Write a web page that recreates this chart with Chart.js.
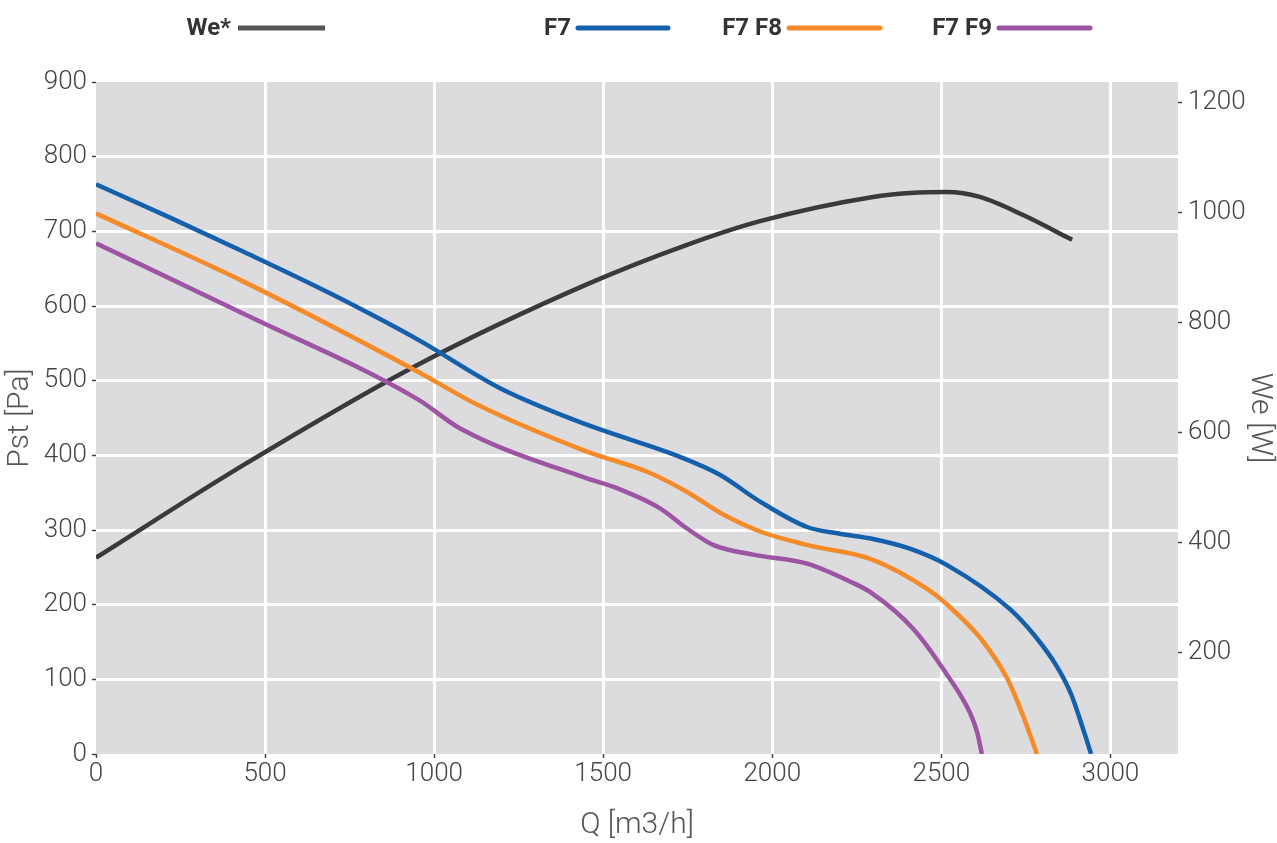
<!DOCTYPE html>
<html>
<head>
<meta charset="utf-8">
<script src="https://cdn.jsdelivr.net/npm/chart.js@4.4.1/dist/chart.umd.min.js"></script>
<style>
  html, body { margin: 0; padding: 0; background: #fff; }
  #wrap { width: 1277px; height: 843px; }
</style>
</head>
<body>
<div id="wrap"><canvas id="fan-curve" width="1277" height="843"></canvas></div>
<script>
// air flow Q [m3/h] and static pressure Pst [Pa] per filter combo
const qF7 = [0, 216, 435, 692, 952, 1195, 1452, 1727, 1845, 1964, 2103, 2200, 2298, 2407, 2517, 2703, 2777, 2842, 2884, 2919, 2943];
const pF7 = [763, 719, 673, 617, 555, 490, 441, 398, 374, 338, 304, 295, 288, 275, 253, 194, 158, 117, 80, 34, 0];

const qF7F8 = [0, 435, 952, 1127, 1452, 1630, 1748, 1854, 1964, 2103, 2298, 2458, 2517, 2614, 2694, 2718, 2742, 2783];
const pF7F8 = [724, 633, 512, 468, 405, 378, 351, 321, 298, 280, 260, 221, 200, 156, 102, 78, 51, 0];

const qF7F9 = [0, 435, 952, 1077, 1452, 1529, 1668, 1748, 1825, 1943, 2103, 2230, 2289, 2416, 2517, 2585, 2606, 2620];
const pF7F9 = [684, 590, 475, 436, 369, 358, 329, 302, 280, 267, 255, 231, 217, 168, 106, 55, 29, 0];

// electrical power We [W]
const qWe = [0, 432, 952, 1455, 1748, 1964, 2298, 2407, 2517, 2614, 2742, 2887];
const pWe = [373, 540, 724, 871, 942, 985, 1029, 1036, 1038, 1029, 996, 951];

const qTicks = [0, 500, 1000, 1500, 2000, 2500, 3000];
const pstTicks = [0, 100, 200, 300, 400, 500, 600, 700, 800, 900];
const weTicks = [200, 400, 600, 800, 1000, 1200];

const toPoints = (xs, ys) => xs.map((x, i) => ({ x: x, y: ys[i] }));

const tickFont = { family: 'Roboto', size: 26, weight: '300' };
const titleFont = { family: 'Roboto', size: 30, weight: '300' };

// background of the plot area
const plotBg = {
    id: 'plotBg',
    beforeDraw(chart) {
        const { ctx, chartArea: a } = chart;
        ctx.save();
        ctx.fillStyle = '#dcdcdf';
        ctx.fillRect(a.left, a.top, a.right - a.left, a.bottom - a.top);
        ctx.restore();
    }
};

// legend on top: label text, then a line sample to the right
const legendSpots = [
    { from: 238, to: 325, cap: 'butt', color: '#555555' },
    { from: 578, to: 668, cap: 'round' },
    { from: 789, to: 880, cap: 'round' },
    { from: 999, to: 1090, cap: 'round' }
];
const topLegend = {
    id: 'topLegend',
    afterDraw(chart) {
        const ctx = chart.ctx;
        const order = [3, 0, 1, 2];
        ctx.save();
        ctx.font = 'bold 24px Roboto';
        ctx.textAlign = 'right';
        ctx.textBaseline = 'middle';
        order.forEach((di, i) => {
            const ds = chart.data.datasets[di];
            const s = legendSpots[i];
            ctx.fillStyle = '#333';
            ctx.fillText(ds.label, s.from - 7, 29);
            ctx.strokeStyle = s.color || ds.borderColor;
            ctx.lineWidth = 5;
            ctx.lineCap = s.cap;
            ctx.beginPath();
            ctx.moveTo(s.from, 28);
            ctx.lineTo(s.to, 28);
            ctx.stroke();
        });
        ctx.restore();
    }
};

const lineDefaults = {
    borderWidth: 4.5,
    pointRadius: 0,
    fill: false,
    cubicInterpolationMode: 'monotone'
};

const plain = v => String(v);

new Chart(document.getElementById('fan-curve').getContext('2d'), {
    type: 'line',
    data: {
        datasets: [
            Object.assign({ label: 'F7', data: toPoints(qF7, pF7), borderColor: '#1560ac', yAxisID: 'y' }, lineDefaults),
            Object.assign({ label: 'F7 F8', data: toPoints(qF7F8, pF7F8), borderColor: '#f48a28', yAxisID: 'y' }, lineDefaults),
            Object.assign({ label: 'F7 F9', data: toPoints(qF7F9, pF7F9), borderColor: '#9c54a3', yAxisID: 'y' }, lineDefaults),
            Object.assign({ label: 'We*', data: toPoints(qWe, pWe), borderColor: '#3a3a3c', yAxisID: 'y1' }, lineDefaults)
        ]
    },
    options: {
        responsive: false,
        animation: false,
        layout: { padding: { top: 82, left: 0, right: 0, bottom: 0 } },
        plugins: {
            legend: { display: false },
            tooltip: { enabled: false }
        },
        scales: {
            x: {
                type: 'linear',
                min: 0,
                max: 3200,
                afterBuildTicks: s => { s.ticks = qTicks.map(v => ({ value: v })); },
                afterFit: s => { s.height = 89; },
                border: { display: false },
                grid: {
                    color: c => (c.tick && c.tick.value === 0) ? 'rgba(0,0,0,0)' : '#ffffff',
                    lineWidth: 3,
                    tickColor: '#444',
                    tickWidth: 1.5,
                    tickLength: 4
                },
                ticks: { font: tickFont, color: '#444', padding: 1, maxRotation: 0, callback: plain },
                title: { display: true, text: 'Q [m3/h]', font: titleFont, color: '#555', padding: { top: 0, bottom: 0 } }
            },
            y: {
                position: 'left',
                min: 0,
                max: 900,
                afterBuildTicks: s => { s.ticks = pstTicks.map(v => ({ value: v })); },
                afterFit: s => { s.width = 96; },
                border: { display: false },
                grid: {
                    color: c => (c.tick && (c.tick.value === 0 || c.tick.value === 900)) ? 'rgba(0,0,0,0)' : '#ffffff',
                    lineWidth: 3,
                    tickColor: '#444',
                    tickWidth: 1.5,
                    tickLength: 4
                },
                ticks: { font: tickFont, color: '#444', padding: 5, callback: plain },
                title: { display: true, text: 'Pst [Pa]', font: titleFont, color: '#555', padding: { top: 2, bottom: 0 } }
            },
            y1: {
                position: 'right',
                min: 16,
                max: 1238,
                afterBuildTicks: s => { s.ticks = weTicks.map(v => ({ value: v })); },
                afterFit: s => { s.width = 99; },
                border: { display: false },
                grid: {
                    drawOnChartArea: false,
                    tickColor: '#444',
                    tickWidth: 1.5,
                    tickLength: 4
                },
                ticks: { font: tickFont, color: '#444', padding: 6, callback: plain },
                title: { display: true, text: 'We [W]', font: titleFont, color: '#555', padding: { top: 0, bottom: 0 } }
            }
        }
    },
    plugins: [plotBg, topLegend]
});
</script>
</body>
</html>
